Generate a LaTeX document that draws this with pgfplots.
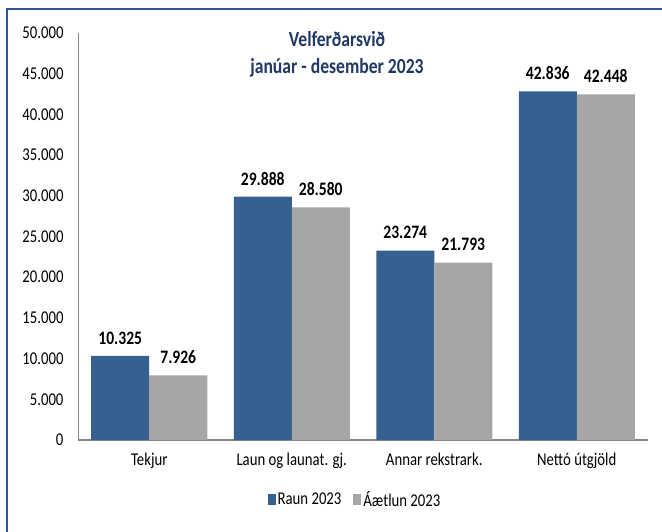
\documentclass[border=0pt]{standalone}
\usepackage{fontspec}
\setmainfont{Carlito}[FakeStretch=0.82]
\usepackage{pgfplots}
\pgfplotsset{compat=1.18}
\definecolor{raun}{HTML}{376092}
\definecolor{aaetlun}{HTML}{A6A6A6}
\definecolor{titlec}{HTML}{1F3864}
\definecolor{framec}{HTML}{2F5597}
\definecolor{axisgray}{HTML}{868686}
\begin{document}
\begin{tikzpicture}
\begin{axis}[
  scale only axis, width=570bp, height=407bp,
  xmin=-0.5, xmax=3.5, ymin=0, ymax=50000,
  ybar=0pt, bar width=58bp,
  axis x line*=bottom, axis y line*=left,
  axis line style={-, draw=axisgray},
  x axis line style={line width=1.4bp},
  y axis line style={line width=0.8bp},
  xtick={0,1,2,3},
  xticklabels={Tekjur, Laun og launat. gj., Annar rekstrark., Nettó útgjöld},
  ytick={0,5000,...,50000},
  major tick length=0pt,
  scaled y ticks=false,
  /pgf/number format/.cd, fixed, precision=0, 1000 sep={.}, assume math mode=true,
  /pgfplots/.cd,
  tick label style={font=\fontsize{18bp}{19bp}\selectfont, text=black},
  yticklabel style={xshift=-11bp},
  xticklabel style={yshift=-9bp},
  nodes near coords,
  nodes near coords style={font=\bfseries\fontsize{19bp}{20bp}\selectfont, text=black, anchor=south, yshift=8bp},
  legend columns=2,
  legend style={at={(0.486,-0.147)}, anchor=center, draw=none, fill=none,
    font=\fontsize{18bp}{19bp}\selectfont,
    /tikz/every even column/.append style={column sep=10bp}},
  legend image code/.code={\fill[#1] (0bp,-5.5bp) rectangle (8bp,5.5bp);},
]
\addplot[fill=raun, draw=none] coordinates {(0,10325) (1,29888) (2,23274) (3,42836)};
\addplot[fill=aaetlun, draw=none] coordinates {(0,7926) (1,28580) (2,21793) (3,42448)};
\legend{Raun 2023, Áætlun 2023}
\end{axis}
\node[font=\bfseries\fontsize{21.5bp}{27bp}\selectfont, text=titlec, align=center] at (259bp,386bp) {Velferðarsvið\\janúar - desember 2023};
\draw[framec, line width=2bp] (-71bp,-100bp) -- (-71bp,431bp) -- (590bp,431bp);
\pgfresetboundingbox
\path[use as bounding box] (-78bp,-92bp) rectangle (584bp,440bp);
\end{tikzpicture}
\end{document}
